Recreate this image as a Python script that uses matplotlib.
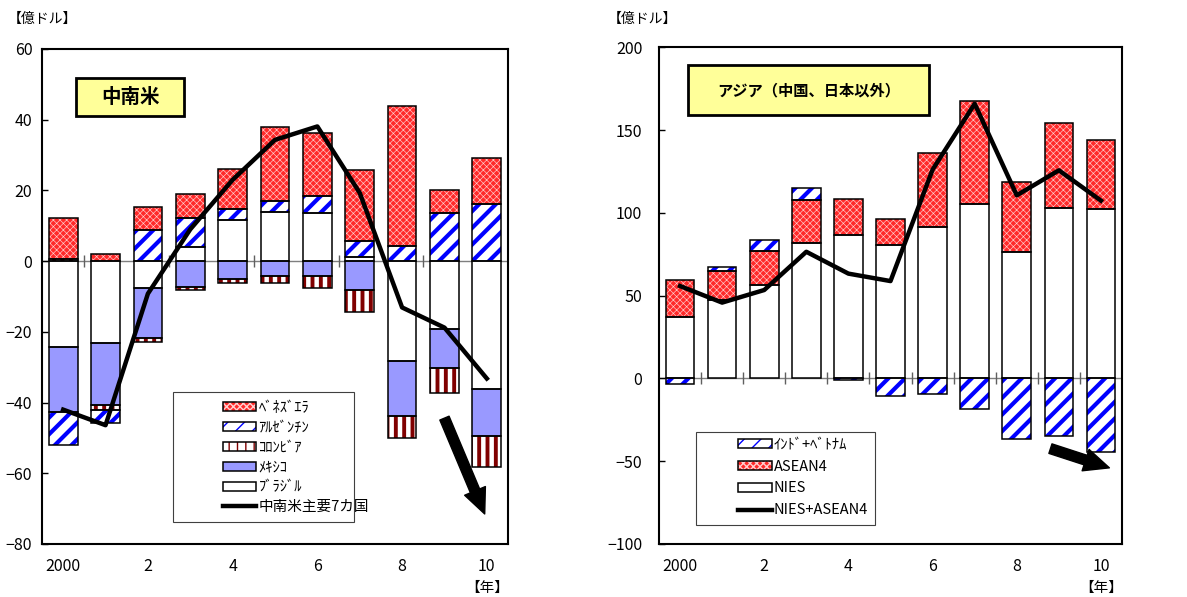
import numpy as np
import matplotlib
matplotlib.use('Agg')
from matplotlib import pyplot as plt
from matplotlib.patches import Rectangle

plt.rcParams['font.family'] = ['Noto Sans CJK JP', 'DejaVu Sans']

# years 2000-2010, labels only on every second year
years = ['2000', '2001', '2002', '2003', '2004', '2005', '2006', '2007', '2008', '2009', '2010']
year_ticks = ['2000', '2', '4', '6', '8', '10']

# Latin America (100 million USD)
brazil = [-24.3, -23.2, -7.6, 4.1, 11.6, 13.9, 13.6, 1.3, -28.2, -19.2, -36.1]
mexico = [-18.5, -17.6, -14.2, -7.3, -5.1, -4.2, -4.2, -8.2, -15.7, -10.9, -13.3]
colombia = [0.6, -1.2, -1.2, -0.9, -1.1, -2.1, -3.3, -6.1, -6.1, -7.2, -8.8]
argentina = [-9.1, -3.8, 8.7, 8.0, 3.1, 3.0, 4.9, 4.5, 4.3, 13.6, 16.3]
venezuela = [11.6, 1.9, 6.5, 6.8, 11.5, 21.0, 17.6, 20.1, 39.5, 6.5, 12.8]
latam7 = [-42.0, -46.4, -9.2, 9.0, 23.0, 34.3, 38.1, 19.3, -13.1, -18.8, -33.2]

# Asia excluding China and Japan
nies = [37.3, 47.4, 56.6, 81.5, 86.9, 80.5, 91.4, 105.2, 76.5, 103.0, 102.6]
asean4 = [22.3, 17.7, 20.5, 26.5, 21.3, 15.5, 44.7, 62.5, 42.0, 51.4, 41.2]
india_vn = [-3.4, 2.2, 6.6, 7.1, -0.8, -10.6, -9.4, -18.3, -36.7, -34.5, -44.2]
nies_asean4 = [55.8, 45.8, 53.4, 76.5, 63.3, 58.8, 126.1, 165.9, 110.6, 125.7, 107.4]

# trend arrows (start, end) in data units
latam_arrow = ((9.0, -44.4), (9.95, -71.5))
asia_arrow = ((8.8, -42.4), (10.2, -54.0))

RED = dict(face='#ff2a2a', hatch='xxxxx', hcolor='#ffd0d0', hlw=0.45)
BLUE = dict(face='white', hatch='//', hcolor='#0000ff', hlw=3.0)
MAROON = dict(face='white', hatch='||', hcolor='#800000', hlw=2.8)
LAV = dict(face='#9999ff', hatch=None, hcolor='black', hlw=1.0)
WHITE = dict(face='white', hatch=None, hcolor='black', hlw=1.0)


def stack_bars(ax, series, styles):
    x = np.arange(len(years))
    pos = np.zeros(len(x))
    neg = np.zeros(len(x))
    handles = []
    for vals, st in zip(series, styles):
        vals = np.asarray(vals, dtype=float)
        base = np.where(vals >= 0, pos, neg)
        with plt.rc_context({'hatch.linewidth': st['hlw'], 'hatch.color': st['hcolor']}):
            fill = ax.bar(x, vals, width=0.68, bottom=base, color=st['face'],
                          hatch=st['hatch'], edgecolor=st['hcolor'], linewidth=0, zorder=2)
        edge = ax.bar(x, vals, width=0.68, bottom=base, fill=False,
                      edgecolor='black', linewidth=1.1, zorder=3)
        for p in fill.patches:
            if hasattr(p, 'set_hatch_linewidth'):
                p.set_hatch_linewidth(st['hlw'])
        pos += np.where(vals >= 0, vals, 0)
        neg += np.where(vals < 0, vals, 0)
        handles.append((fill.patches[0], edge.patches[0]))
    return handles


def setup_axes(ax, ylim, ystep, ypad, tick_every):
    x = np.arange(len(years))
    ax.set_xlim(-0.5, len(years) - 0.5)
    ax.set_ylim(*ylim)
    ax.set_yticks(np.arange(ylim[0], ylim[1] + 1, ystep))
    ax.set_xticks(x[::2])
    ax.set_xticklabels(year_ticks)
    ax.tick_params(axis='x', length=0, pad=10, labelsize=11.5)
    ax.tick_params(axis='y', direction='in', length=4, width=1, pad=ypad, labelsize=11.5)
    for s in ax.spines.values():
        s.set_linewidth(1.5)
    ax.axhline(0, color='#7f7f7f', lw=1, zorder=1)
    bounds = np.arange(0.5, len(years) - 1, tick_every)
    ax.plot(bounds, np.zeros_like(bounds), ls='none', marker='|', ms=9, mew=1,
            color='#606060', zorder=1)
    ax.text(10, -0.089, '【年】', transform=ax.get_xaxis_transform(),
            ha='center', va='center', fontsize=10.5)


def title_box(ax, rect, text, size):
    ax.add_patch(Rectangle(rect[:2], rect[2], rect[3], transform=ax.transAxes,
                           facecolor='#ffff99', edgecolor='black', lw=2, zorder=6))
    ax.text(rect[0] + rect[2] / 2, rect[1] + rect[3] / 2, text, transform=ax.transAxes,
            ha='center', va='center', fontsize=size, fontweight='bold', zorder=7)


def legend_box(ax, rect, handles, labels, anchor, spacing):
    ax.add_patch(Rectangle(rect[:2], rect[2], rect[3], transform=ax.transAxes,
                           facecolor='white', edgecolor='#404040', lw=0.8, zorder=5))
    leg = ax.legend(handles, labels, loc='center left', bbox_to_anchor=anchor,
                    frameon=False, fontsize=10.5, handlelength=2.3, handleheight=0.55,
                    handletextpad=0.15, labelspacing=spacing, borderpad=0, borderaxespad=0)
    leg.set_zorder(6)


def draw_arrow(ax, arrow):
    ax.annotate('', xy=arrow[1], xytext=arrow[0],
                arrowprops=dict(arrowstyle='simple,head_width=0.9,head_length=1.0,tail_width=0.4',
                                fc='black', ec='black', mutation_scale=18, shrinkA=0, shrinkB=0),
                zorder=6)


fig = plt.figure(figsize=(11.87, 5.97), dpi=100)

# left: Latin America
ax1 = fig.add_axes([0.03538, 0.08878, 0.39259, 0.82915])
setup_axes(ax1, (-80, 60), 20, 7, 2)
h1 = stack_bars(ax1, [brazil, mexico, colombia, argentina, venezuela],
                [WHITE, LAV, MAROON, BLUE, RED])
line1, = ax1.plot(np.arange(len(years)), latam7, color='black', lw=3.2, zorder=4)
draw_arrow(ax1, latam_arrow)
title_box(ax1, (0.073, 0.8646, 0.2318, 0.0768), '中南米', 14)
legend_box(ax1, (0.281, 0.0444, 0.388, 0.263),
           [h1[4], h1[3], h1[2], h1[1], h1[0], line1],
           ['ﾍﾞﾈｽﾞｴﾗ', 'ｱﾙｾﾞﾝﾁﾝ', 'ｺﾛﾝﾋﾞｱ', 'ﾒｷｼｺ', 'ﾌﾞﾗｼﾞﾙ', '中南米主要7カ国'],
           (0.388, 0.1747), 0.4)

# right: Asia excluding China and Japan
ax2 = fig.add_axes([0.55518, 0.08878, 0.39006, 0.8320])
setup_axes(ax2, (-100, 200), 50, 12, 1)
h2 = stack_bars(ax2, [nies, asean4, india_vn], [WHITE, RED, BLUE])
line2, = ax2.plot(np.arange(len(years)), nies_asean4, color='black', lw=3.2, zorder=4)
draw_arrow(ax2, asia_arrow)
title_box(ax2, (0.0626, 0.8632, 0.5205, 0.1006), 'アジア（中国、日本以外）', 11)
legend_box(ax2, (0.080, 0.0382, 0.3866, 0.1871),
           [h2[2], h2[1], h2[0], line2],
           ['ｲﾝﾄﾞ+ﾍﾞﾄﾅﾑ', 'ASEAN4', 'NIES', 'NIES+ASEAN4'],
           (0.1706, 0.1338), 0.54)

fig.text(8 / 1187, 1 - 19 / 597, '【億ドル】', ha='left', va='center', fontsize=10)
fig.text(608 / 1187, 1 - 19 / 597, '【億ドル】', ha='left', va='center', fontsize=10)

fig.savefig('out.png', dpi=100)
